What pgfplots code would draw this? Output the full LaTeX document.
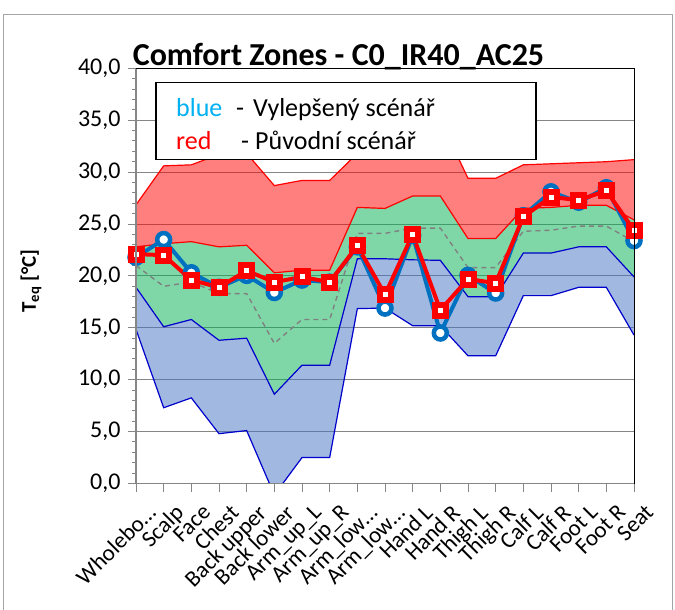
\documentclass[border=0pt]{standalone}
\usepackage{fontspec}
\setmainfont{Carlito}
\usepackage{pgfplots}
\pgfplotsset{compat=1.18}
\usepackage{pgfplotstable}
\usepgfplotslibrary{fillbetween}
\definecolor{zred}{RGB}{255,0,0}
\definecolor{zgreen}{RGB}{0,176,80}
\definecolor{zblue}{RGB}{68,114,196}
\definecolor{lineblue}{RGB}{0,112,192}
\definecolor{edgeblue}{RGB}{0,0,204}
\definecolor{gridgray}{RGB}{134,134,134}
\definecolor{framegray}{RGB}{165,165,165}
\definecolor{cyanblue}{RGB}{0,176,240}

\pgfplotstableread{
x  bb    bt    neu   gt    rt    blue  red
0  14.85 18.9  21.0  22.8  26.85 21.8  22.1
1  7.3   15.1  19.0  23.1  30.6  23.5  22.0
2  8.25  15.8  19.4  23.3  30.7  20.3  19.6
3  4.8   13.8  18.3  22.8  31.7  18.9  18.9
4  5.1   14.0  18.3  22.95 31.8  20.05 20.5
5  -1.1  8.6   13.5  20.3  28.7  18.4  19.4
6  2.5   11.4  15.8  20.55 29.2  19.6  19.9
7  2.5   11.4  15.8  20.55 29.2  19.4  19.4
8  16.85 21.65 24.1  26.6  31.8  22.8  22.9
9  16.9  21.65 24.1  26.5  31.8  16.9  18.2
10 15.2  21.55 24.6  27.7  35.0  23.9  24.0
11 15.2  21.5  24.6  27.7  35.0  14.5  16.7
12 12.3  18.0  20.8  23.6  29.4  20.05 19.7
13 12.3  18.0  20.8  23.6  29.4  18.35 19.3
14 18.1  22.2  24.3  26.5  30.7  25.8  25.7
15 18.1  22.2  24.4  26.6  30.8  28.1  27.6
16 18.9  22.8  24.8  26.8  30.9  27.1  27.3
17 18.9  22.8  24.8  26.8  31.0  28.5  28.2
18 14.3  19.9  23.3  25.4  31.2  23.4  24.4
}\zones

\begin{document}
\begin{tikzpicture}
\draw[framegray, line width=1bp] (3bp,-620bp) -- (3bp,-14bp) -- (672bp,-14bp) -- (672bp,-620bp);
\begin{axis}[name=ax, scale only axis, width=498bp, height=415.2bp,
  at={(136bp,-483.5bp)}, anchor=south west,
  xmin=0, xmax=18, ymin=0, ymax=40,
  xtick={0,...,18},
  xticklabels={Wholebo…, Scalp, Face, Chest, Back upper, Back lower, Arm\_up\_L, Arm\_up\_R, Arm\_low…, Arm\_low…, Hand L, Hand R, Thigh L, Thigh R, Calf L, Calf R, Foot L, Foot R, Seat},
  ytick={0,5,...,40}, minor y tick num=4,
  tick align=outside, xtick pos=bottom, ytick pos=left,
  major tick length=8bp, minor tick length=4bp,
  tick style={gridgray, line width=1bp},
  ymajorgrids, major grid style={gridgray, line width=1bp},
  axis line style={draw=none},
  yticklabel style={font=\fontsize{24bp}{28bp}\selectfont, xshift=-4bp, /pgf/number format/.cd, fixed, fixed zerofill, precision=1, use comma, assume math mode=true},
  xticklabel style={font=\fontsize{23bp}{27bp}\selectfont, rotate=45, anchor=north east, inner sep=0pt, yshift=-15bp, xshift=-1bp},
]
\addplot[name path=bb, edgeblue, line width=1.2bp] table[x=x,y=bb]{\zones};
\addplot[name path=bt, edgeblue, line width=1.2bp] table[x=x,y=bt]{\zones};
\addplot[name path=gt, zred, line width=1.2bp] table[x=x,y=gt]{\zones};
\addplot[name path=rt, zred, line width=1.2bp] table[x=x,y=rt]{\zones};
\addplot[fill=zblue, fill opacity=0.5] fill between[of=bb and bt];
\addplot[fill=zgreen, fill opacity=0.5] fill between[of=bt and gt];
\addplot[fill=zred, fill opacity=0.5] fill between[of=gt and rt];
\addplot[gray, line width=1.4bp, dash pattern=on 5bp off 4bp] table[x=x,y=neu]{\zones};
\addplot[lineblue, line width=4bp, mark=*, mark size=6.5bp, mark options={fill=white, draw=lineblue, line width=4.5bp, solid}] table[x=x,y=blue]{\zones};
\addplot[zred, line width=4bp, mark=square*, mark size=5.5bp, mark options={fill=white, draw=zred, line width=6bp, solid}] table[x=x,y=red]{\zones};
\end{axis}
\draw[gridgray, line width=1.2bp] (ax.north west) -- (ax.south west) -- (ax.south east);
\draw[black, line width=1bp] (ax.north west) -- (ax.north east) -- (ax.south east);
\node[anchor=base, inner sep=0pt, font=\fontsize{32bp}{38bp}\selectfont\bfseries] at (338.5bp,-65bp) {Comfort Zones - C0\_IR40\_AC25};
\node[rotate=90, inner sep=0pt, font=\fontsize{21bp}{25bp}\selectfont\bfseries] at (31bp,-281bp) {T\textsubscript{eq} [°C]};
\draw[black, line width=1.5bp, fill=white] (156bp,-82.7bp) rectangle (536bp,-159.3bp);
\begin{scope}[every node/.style={anchor=base west, inner sep=0pt, font=\fontsize{26bp}{30bp}\selectfont}]
\node[text=cyanblue] at (176bp,-116.7bp) {blue};
\node at (236bp,-116.7bp) {-};
\node at (253bp,-116.7bp) {Vylepšený scénář};
\node[text=zred] at (176bp,-149.3bp) {red};
\node at (241bp,-149.3bp) {-};
\node at (255bp,-149.3bp) {Původní scénář};
\end{scope}
\pgfresetboundingbox
\useasboundingbox (0,0) rectangle (675bp,-610bp);
\end{tikzpicture}
\end{document}
